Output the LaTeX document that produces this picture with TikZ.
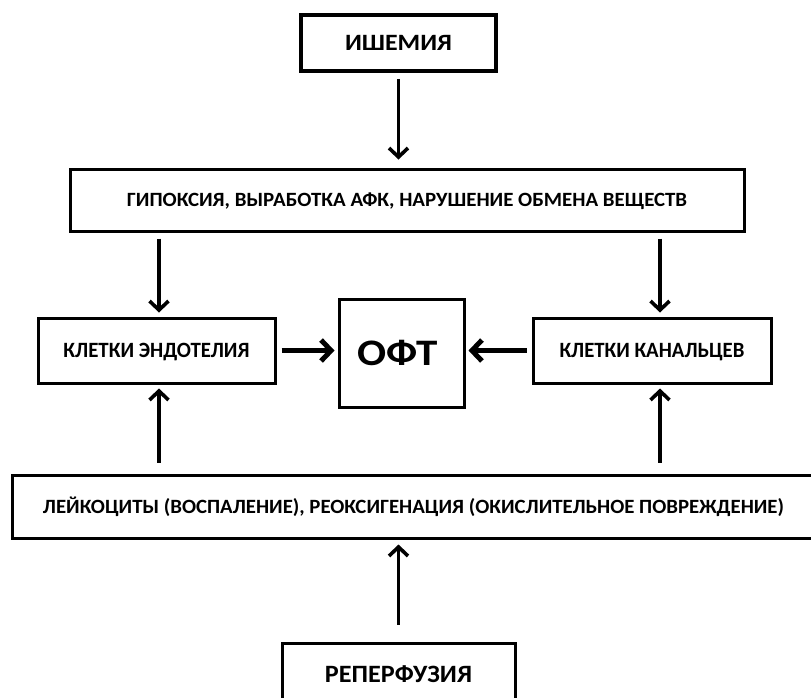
\documentclass[tikz,border=0pt]{standalone}
\usepackage{fontspec}
\setmainfont{Carlito}
\usetikzlibrary{arrows.meta}
\newcommand\fittext[3]{\resizebox{#1}{#2}{\smash{#3}\vphantom{Е}}}
\tikzset{
  box/.style={draw=black, line width=3pt, rectangle, inner sep=0pt, fill=white},
  arr/.style={line width=3.6pt, -{Straight Barb[length=9pt,width=19pt]}},
  harr/.style={line width=5pt, -{Straight Barb[length=10pt,width=21pt]}},
}
\begin{document}
\begin{tikzpicture}[x=1pt,y=-1pt]
\useasboundingbox (0,0) rectangle (811,697);
\clip (0,0) rectangle (811,697);
\fill[white] (0,0) rectangle (811,697);
\node[box, line width=3.5pt, minimum width=195pt, minimum height=56pt] (ish) at (398.5,43) {\fittext{107pt}{15pt}{\bfseries ИШЕМИЯ}};
\node[box, minimum width=674pt, minimum height=62pt] (top) at (407,200) {\fittext{560pt}{13pt}{\bfseries ГИПОКСИЯ, ВЫРАБОТКА АФК, НАРУШЕНИЕ ОБМЕНА ВЕЩЕСТВ}};
\node[box, minimum width=237pt, minimum height=65pt] (le) at (156.5,350.5) {\fittext{186pt}{14pt}{\bfseries КЛЕТКИ ЭНДОТЕЛИЯ}};
\node[box, minimum width=125pt, minimum height=108pt] (oft) at (401.5,353) {\hspace*{-8pt}\fittext{80pt}{24pt}{\bfseries ОФТ}};
\node[box, minimum width=238pt, minimum height=65pt] (re) at (652,350.5) {\fittext{185pt}{14pt}{\bfseries КЛЕТКИ КАНАЛЬЦЕВ}};
\node[box, minimum width=803pt, minimum height=63pt] (bot) at (413.5,506.5) {\fittext{741pt}{13pt}{\bfseries ЛЕЙКОЦИТЫ (ВОСПАЛЕНИЕ), РЕОКСИГЕНАЦИЯ (ОКИСЛИТЕЛЬНОЕ ПОВРЕЖДЕНИЕ)}};
\node[box, minimum width=233pt, minimum height=62pt] (rep) at (398.5,674) {\fittext{147pt}{16pt}{\bfseries РЕПЕРФУЗИЯ}};
\coordinate (la) at (159,0);
\coordinate (ra) at (660,0);
\draw[arr, shorten <=6pt, shorten >=8pt] (ish.south) -- (top.north -| ish.south);
\draw[arr, shorten <=6pt, shorten >=4pt] (top.south -| la) -- (le.north -| la);
\draw[arr, shorten <=6pt, shorten >=4pt] (top.south -| ra) -- (re.north -| ra);
\draw[harr, shorten <=5pt, shorten >=3pt] (le.east) -- (oft.west |- le.east);
\draw[harr, shorten <=5pt, shorten >=3pt] (re.west) -- (oft.east |- re.west);
\draw[arr, shorten <=11pt, shorten >=4pt] (bot.north -| la) -- (le.south -| la);
\draw[arr, shorten <=11pt, shorten >=4pt] (bot.north -| ra) -- (re.south -| ra);
\draw[arr, shorten <=17pt, shorten >=5pt] (rep.north) -- (bot.south -| rep.north);
\end{tikzpicture}
\end{document}
